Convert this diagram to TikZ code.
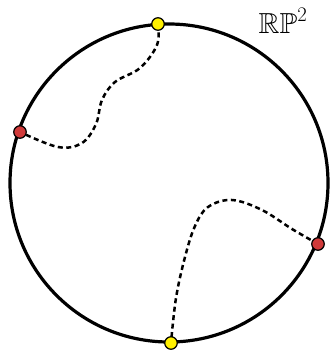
\documentclass[tikz,border=0pt]{standalone}
\usepackage{amssymb}
\usetikzlibrary{backgrounds}
\definecolor{dotred}{RGB}{208,58,58}
\definecolor{dotyellow}{RGB}{255,240,0}
\tikzset{
  rim/.style={line width=3.2pt},
  dashpath/.style={line width=2.5pt, dash pattern=on 5pt off 3.5pt},
  pt/.style={circle, draw=black, line width=1.2pt, inner sep=0pt, minimum size=12.5pt},
  ypt/.style={pt, fill=dotyellow},
  rpt/.style={pt, fill=dotred},
}
\begin{document}
\begin{tikzpicture}[x=1pt,y=-1pt]
\useasboundingbox (0,0) rectangle (330,350);
\draw[rim] (169,183) circle (159);
\node[ypt] (top) at (158,24) {};
\node[ypt] (bot) at (171,343) {};
\node[rpt] (left) at (20,132) {};
\node[rpt] (right) at (318,244) {};
\node (lab) at (283,21) {\fontsize{29}{29}\selectfont$\mathbb{RP}^2$};
\begin{scope}[on background layer]
\draw[dashpath] plot[smooth, tension=0.6] coordinates {(top.center) (157,45) (140,68) (115,82) (102,100) (96,124) (82,143) (58,147) (left.center)};
\draw[dashpath] plot[smooth, tension=0.6] coordinates {(right.center) (292,229) (262,210) (232,200) (208,207) (195,226) (185,257) (176,298) (bot.center)};
\end{scope}
\end{tikzpicture}
\end{document}
